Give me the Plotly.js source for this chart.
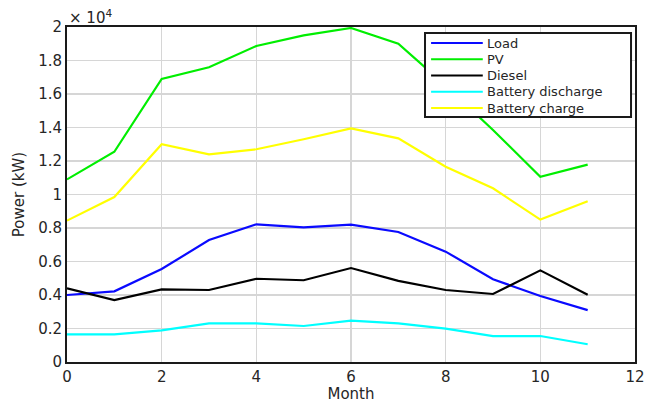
<!DOCTYPE html>
<html>
<head>
<meta charset="utf-8">
<script src="https://cdn.plot.ly/plotly-3.0.1.min.js"></script>
<style>html,body{margin:0;padding:0;background:#fff;}#chart{width:648px;height:403px;}</style>
</head>
<body>
<div id="chart"></div>
<script>
const months = [0,1,2,3,4,5,6,7,8,9,10,11];
const load = [4000,4220,5550,7280,8220,8040,8200,7760,6590,4940,3940,3100];
const pv = [10900,12550,16900,17600,18870,19500,19940,19000,16500,13850,11060,11780];
const diesel = [4400,3700,4340,4300,4970,4880,5610,4840,4300,4060,5470,4020];
const batteryDischarge = [1650,1650,1890,2310,2310,2150,2470,2310,1990,1550,1550,1060];
const batteryCharge = [8440,9850,13000,12400,12700,13300,13950,13350,11660,10370,8500,9600];
const seriesNames = ['Load','PV','Diesel','Battery discharge','Battery charge'];
const seriesColors = ['#0a0aff','#00ee00','#000000','#00ffff','#ffff00'];
const yTickVals = [0,2000,4000,6000,8000,10000,12000,14000,16000,18000,20000];
const yTickText = ['0','0.2','0.4','0.6','0.8','1','1.2','1.4','1.6','1.8','2'];
const xTickVals = [0,2,4,6,8,10,12];

const font = 'DejaVu Sans, Verdana, sans-serif';
const series = [load, pv, diesel, batteryDischarge, batteryCharge];
const data = series.map((y, i) => ({
  x: months, y: y, name: seriesNames[i], type: 'scatter', mode: 'lines',
  line: {color: seriesColors[i], width: 2.2}, showlegend: false
}));

// Legend drawn as box + sample lines + labels (paper coordinates)
const legX0 = 0.6303, legX1 = 0.993, legY0 = 0.731, legY1 = 0.982;
const itemY0 = 0.952, itemStep = 0.0485;
const shapes = [{type: 'rect', xref: 'paper', yref: 'paper', x0: legX0, x1: legX1, y0: legY0, y1: legY1,
                 line: {color: '#1a1a1a', width: 2}, fillcolor: '#ffffff', layer: 'above'}];
const annotations = [{xref: 'paper', yref: 'paper', x: 0, y: 1, xanchor: 'left', yanchor: 'bottom',
                 text: '× 10<sup>4</sup>', showarrow: false, yshift: -2,
                 font: {family: font, size: 15, color: '#262626'}}];
seriesNames.forEach((n, i) => {
  const yy = itemY0 - i * itemStep;
  shapes.push({type: 'line', xref: 'paper', yref: 'paper', x0: 0.641, x1: 0.732, y0: yy, y1: yy,
               line: {color: seriesColors[i], width: 2}, layer: 'above'});
  annotations.push({xref: 'paper', yref: 'paper', x: 0.738, y: yy, xanchor: 'left', yanchor: 'middle',
                    text: n, showarrow: false, borderpad: 0,
                    font: {family: font, size: 13, color: '#262626'}});
});

const layout = {
  width: 648, height: 403,
  margin: {l: 67, r: 13, t: 27, b: 41, pad: 0},
  paper_bgcolor: '#fff', plot_bgcolor: '#fff',
  font: {family: font, color: '#262626', size: 15},
  showlegend: false,
  xaxis: {range: [0, 12], tickvals: xTickVals, ticks: '', showgrid: true,
          gridcolor: '#d6d6d6', gridwidth: 1.5, zeroline: false,
          showline: true, mirror: true, linecolor: '#1a1a1a', linewidth: 2,
          tickfont: {size: 15}, fixedrange: true,
          title: {text: 'Month', font: {size: 15}, standoff: 4}},
  yaxis: {range: [0, 20000], tickvals: yTickVals, ticktext: yTickText, ticks: '',
          showgrid: true, gridcolor: '#d6d6d6', gridwidth: 1.5, zeroline: false,
          showline: true, mirror: true, linecolor: '#1a1a1a', linewidth: 2,
          tickfont: {size: 15}, fixedrange: true,
          title: {text: 'Power (kW)', font: {size: 15}, standoff: 10}},
  shapes: shapes,
  annotations: annotations
};
Plotly.newPlot('chart', data, layout, {displayModeBar: false, staticPlot: true});
</script>
</body>
</html>
